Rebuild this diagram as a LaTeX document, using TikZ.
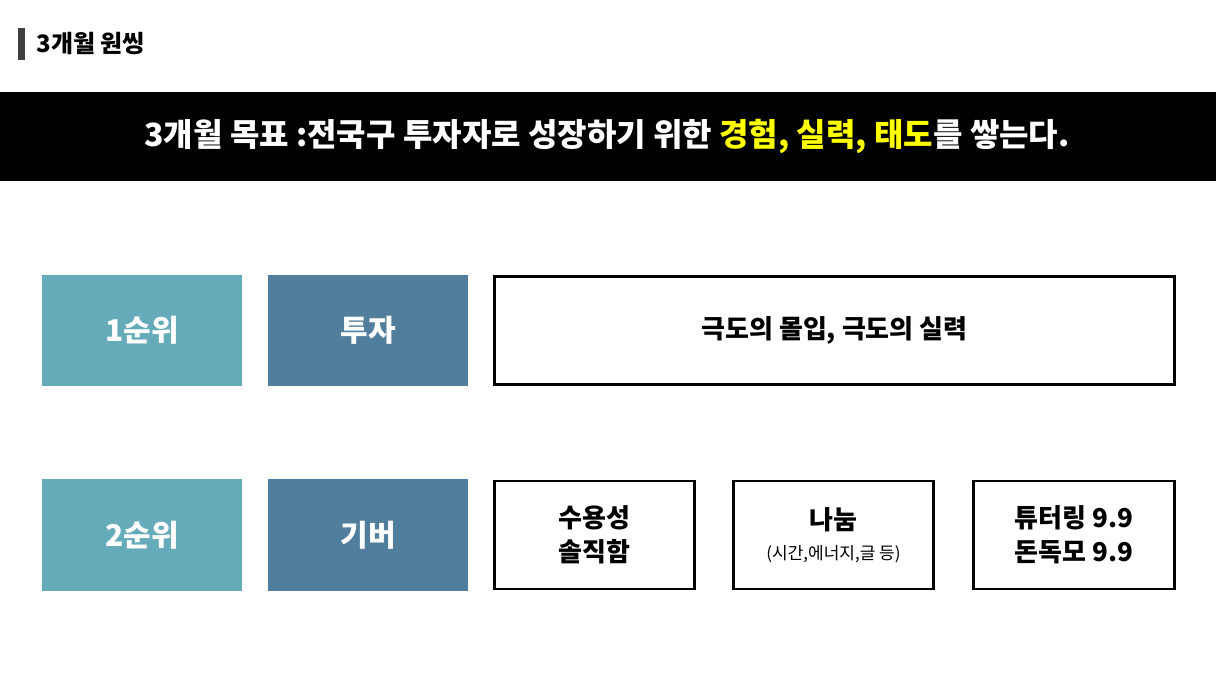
\documentclass[tikz,border=0pt]{standalone}
\usepackage{fontspec}
\setmainfont{Noto Sans CJK KR}
\definecolor{teal1}{HTML}{66ABBA}
\definecolor{blue1}{HTML}{527E9E}
\definecolor{yel}{HTML}{FFFF00}
\begin{document}
\begin{tikzpicture}[x=1pt,y=-1pt,
  lbl/.style={minimum width=200pt,minimum height=111pt,inner sep=0,text=white,font=\fontsize{30}{34}\selectfont\bfseries},
  wbox/.style={draw=black,line width=2.5pt,fill=white,minimum height=108pt,inner sep=0,align=center,font=\fontsize{26}{34}\selectfont\bfseries}]
\useasboundingbox (0,0) rectangle (1216,684);
\fill[white] (0,0) rectangle (1216,684);
\fill[black!75] (18,28) rectangle (25,60);
\node[anchor=west,font=\fontsize{24}{28}\selectfont\bfseries] (t) at (33,44) {3개월 원씽};
\fill[black] (0,92) rectangle (1216,181);
\node[text=white,font=\fontsize{32}{38}\selectfont\bfseries] (h) at (607,137) {3개월 목표 :전국구 투자자로 성장하기 위한 \textcolor{yel}{경험, 실력, 태도}를 쌓는다.};
\node[lbl,fill=teal1] (r1) at (142,330.5) {1순위};
\node[lbl,fill=blue1] (k1) at (368,330.5) {투자};
\node[wbox,minimum width=680pt] (d1) at (834.5,330.5) {극도의 몰입, 극도의 실력};
\node[lbl,fill=teal1] (r2) at (142,535) {2순위};
\node[lbl,fill=blue1] (k2) at (368,535) {기버};
\node[wbox,minimum width=200pt] (d2) at (594.5,535) {수용성\\솔직함};
\node[wbox,minimum width=200pt] (d3) at (833.5,535) {나눔\\[-4pt]{\fontsize{17}{20}\selectfont\mdseries (시간,에너지,글 등)}};
\node[wbox,minimum width=201pt] (d4) at (1074,535) {튜터링 9.9\\돈독모 9.9};
\end{tikzpicture}
\end{document}
